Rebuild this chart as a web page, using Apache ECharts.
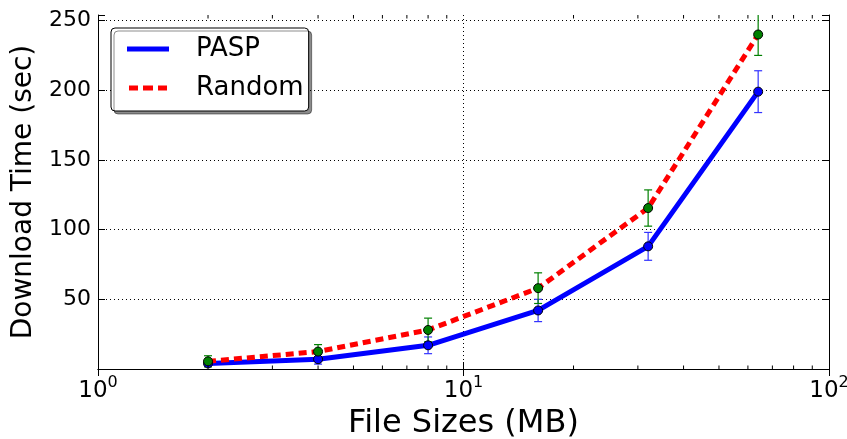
<!DOCTYPE html>
<html>
<head>
<meta charset="utf-8">
<script src="https://cdn.jsdelivr.net/npm/echarts@6/dist/echarts.min.js"></script>
<style>
html,body{margin:0;padding:0;background:#fff;}
#c{width:847px;height:439px;}
</style>
</head>
<body>
<div id="c"></div>
<script>
const fileSizes = [2, 4, 8, 16, 32, 64];
const paspValues = [4, 7, 17, 42, 88, 199];
const paspErr = [2, 3.5, 6, 8, 10, 15];
const randomValues = [5.5, 12.5, 28, 58, 115.5, 240];
const randomErr = [4, 5, 8.5, 11, 13, 15];
const yTickValues = [50, 100, 150, 200, 250];
const minorTickValues = [2, 3, 4, 5, 6, 7, 8, 9, 20, 30, 40, 50, 60, 70, 80, 90];
const seriesNames = ['PASP', 'Random'];

const FONT = 'DejaVu Sans';
const Y_MIN = 0, Y_MAX = 254;

const chart = echarts.init(document.getElementById('c'), null, {renderer: 'canvas'});

function pts(vals) { return fileSizes.map((x, i) => [x, vals[i]]); }
function errData(vals, errs) { return fileSizes.map((x, i) => [x, vals[i], errs[i]]); }

function errRender(color) {
  return function (params, api) {
    const x = api.value(0), y = api.value(1), e = api.value(2);
    const top = api.coord([x, y + e]);
    const bot = api.coord([x, y - e]);
    const cw = 4;
    const style = {stroke: color, lineWidth: 1.2, fill: null};
    return {
      type: 'group',
      children: [
        {type: 'line', shape: {x1: top[0], y1: top[1], x2: bot[0], y2: bot[1]}, style},
        {type: 'line', shape: {x1: top[0] - cw, y1: top[1], x2: top[0] + cw, y2: top[1]}, style},
        {type: 'line', shape: {x1: bot[0] - cw, y1: bot[1], x2: bot[0] + cw, y2: bot[1]}, style}
      ]
    };
  };
}

function minorRender(params, api) {
  const x = api.value(0);
  const b = api.coord([x, Y_MIN]);
  const t = api.coord([x, Y_MAX]);
  const style = {stroke: '#000', lineWidth: 1};
  return {
    type: 'group',
    children: [
      {type: 'line', shape: {x1: b[0], y1: b[1], x2: b[0], y2: b[1] - 3.5}, style},
      {type: 'line', shape: {x1: t[0], y1: t[1], x2: t[0], y2: t[1] + 3.5}, style}
    ]
  };
}

const axisLineStyle = {show: true, lineStyle: {color: '#000', width: 1}};
const majorTick = {show: true, inside: true, length: 7, lineStyle: {color: '#000', width: 1}};
const gridLine = {show: true, showMinLine: false, showMaxLine: false, lineStyle: {color: '#000', width: 1, type: [1, 3]}};

const option = {
  backgroundColor: '#fff',
  animation: false,
  textStyle: {fontFamily: FONT},
  grid: {left: 98, right: 18, top: 15, bottom: 70, containLabel: false, outerBoundsMode: 'none'},
  legend: {
    data: [
      {name: 'PASP', icon: 'path://M0,0H42V5H0Z'},
      {name: 'Random', icon: 'path://M2,0H11V5H2Z M16,0H26V5H16Z M31,0H40V5H31Z M42,0H42V5H42Z M0,0H0V5H0Z'}
    ],
    orient: 'vertical',
    left: 111,
    top: 28,
    backgroundColor: '#fff',
    borderColor: '#000',
    borderWidth: 1,
    borderRadius: 4,
    shadowColor: 'rgba(0,0,0,0.45)',
    shadowBlur: 0,
    shadowOffsetX: 3,
    shadowOffsetY: 3,
    padding: [8, 5, 10, 16],
    itemWidth: 42,
    itemHeight: 5,
    itemGap: 13,
    textStyle: {fontFamily: FONT, fontSize: 26, color: '#000', lineHeight: 26, padding: [0, 0, 0, 22]}
  },
  xAxis: [
    {
      type: 'log', logBase: 10, min: 1, max: 100, position: 'bottom',
      name: 'File Sizes (MB)', nameLocation: 'middle', nameGap: 36,
      nameTextStyle: {fontFamily: FONT, fontSize: 32, color: '#000'},
      axisLine: axisLineStyle, axisTick: majorTick, splitLine: gridLine,
      minorTick: {show: false},
      axisLabel: {
        margin: 6,
        formatter: function (v) {
          const e = Math.round(Math.log10(v));
          return '{b|10}{s|' + e + '}';
        },
        rich: {
          b: {fontFamily: FONT, fontSize: 23, color: '#000', lineHeight: 28, verticalAlign: 'bottom'},
          s: {fontFamily: FONT, fontSize: 16, color: '#000', lineHeight: 28, verticalAlign: 'top'}
        }
      }
    },
    {
      type: 'log', logBase: 10, min: 1, max: 100, position: 'top',
      axisLine: axisLineStyle, axisTick: majorTick, splitLine: {show: false},
      axisLabel: {show: false}
    }
  ],
  yAxis: [
    {
      type: 'value', min: Y_MIN, max: Y_MAX, interval: 50, position: 'left',
      name: 'Download Time (sec)', nameLocation: 'middle', nameGap: 56,
      nameTextStyle: {fontFamily: FONT, fontSize: 28, color: '#000'},
      axisLine: axisLineStyle, axisTick: majorTick, splitLine: gridLine,
      axisLabel: {
        margin: 7, fontFamily: FONT, fontSize: 22, color: '#000',
        formatter: function (v) { return yTickValues.indexOf(v) >= 0 ? String(v) : ''; }
      }
    },
    {
      type: 'value', min: Y_MIN, max: Y_MAX, interval: 50, position: 'right',
      axisLine: axisLineStyle, axisTick: majorTick, splitLine: {show: false},
      axisLabel: {show: false}
    }
  ],
  series: [
    {
      name: 'PASP', type: 'line', data: pts(paspValues), symbol: 'none',
      color: '#0000ff',
      lineStyle: {color: '#0000ff', width: 5}, z: 2
    },
    {
      name: 'Random', type: 'line', data: pts(randomValues), symbol: 'none',
      color: '#ff0000',
      lineStyle: {color: '#ff0000', width: 5, type: [8, 5]}, z: 3
    },
    {
      name: 'PASP err', type: 'custom', data: errData(paspValues, paspErr),
      renderItem: errRender('#3333ff'), clip: true, z: 4, silent: true
    },
    {
      name: 'PASP pts', type: 'scatter', data: pts(paspValues), symbol: 'circle', symbolSize: 9,
      itemStyle: {color: '#0000ff', borderColor: '#000', borderWidth: 1, opacity: 1}, z: 5
    },
    {
      name: 'Random err', type: 'custom', data: errData(randomValues, randomErr),
      renderItem: errRender('#008000'), clip: true, z: 4, silent: true
    },
    {
      name: 'Random pts', type: 'scatter', data: pts(randomValues), symbol: 'circle', symbolSize: 9,
      itemStyle: {color: '#008000', borderColor: '#000', borderWidth: 1, opacity: 1}, z: 5
    },
    {
      name: 'minor ticks', type: 'custom', data: minorTickValues.map(v => [v, Y_MIN]),
      renderItem: minorRender, z: 6, silent: true
    }
  ]
};
chart.setOption(option);
</script>
</body>
</html>
